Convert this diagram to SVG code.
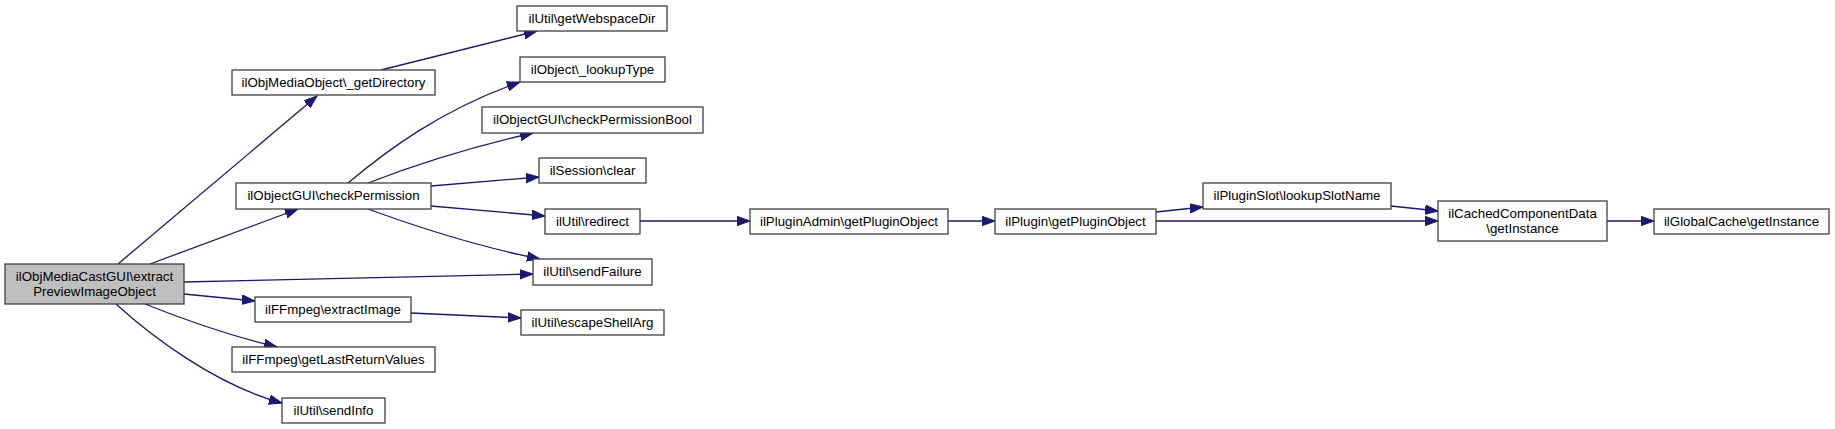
<svg xmlns="http://www.w3.org/2000/svg" width="1835" height="429" viewBox="0 0 1835 429">
<style>
.n rect{fill:#ffffff;stroke:#404040;stroke-width:1.3}
.n.main rect{fill:#bfbfbf}
.n text{font-family:"Liberation Sans",Arial,sans-serif;font-size:13.3px;fill:#000;text-anchor:middle}
.e path{fill:none;stroke:#191970;stroke-width:1.3;marker-end:url(#arr)}
</style>
<defs>
<marker id="arr" markerUnits="userSpaceOnUse" markerWidth="15" markerHeight="12" refX="13" refY="6" orient="auto">
<path d="M0,1.3 L13,6 L0,10.7 z" fill="#191970" stroke="#191970" stroke-width="1"/>
</marker>
</defs>
<rect width="1835" height="429" fill="#ffffff"/>
<g id="edges" class="e">
<path d="M118,264 L317,96"/>
<path d="M150,264 L298,209"/>
<path d="M184,282 L533,274"/>
<path d="M184,294 L255,301"/>
<path d="M145,304 C185,320 235,337 277,347"/>
<path d="M116,304 C150,335 215,385 282,403"/>
<path d="M381,70 L537,31"/>
<path d="M348,183 C385,152 440,110 520,82"/>
<path d="M368,183 C420,163 480,145 533,133"/>
<path d="M431,186 L539,177"/>
<path d="M431,206 L545,216"/>
<path d="M368,209 C420,228 480,247 540,259"/>
<path d="M411,313 L521,318"/>
<path d="M640,221 L750,221"/>
<path d="M948,221 L995,221"/>
<path d="M1156,212 L1203,207"/>
<path d="M1156,221 L1438,221"/>
<path d="M1391,206 L1438,211"/>
<path d="M1607,221 L1654,221"/>
</g>
<g id="n_main" class="n main"><rect x="5" y="264" width="179" height="40"/><text x="94.5" y="281">ilObjMediaCastGUI\extract</text><text x="94.5" y="296">PreviewImageObject</text></g>
<g id="n_getDirectory" class="n"><rect x="232" y="70" width="203" height="25"/><text x="333.5" y="87">ilObjMediaObject\_getDirectory</text></g>
<g id="n_checkPermission" class="n"><rect x="236" y="183" width="195" height="26"/><text x="333.5" y="200">ilObjectGUI\checkPermission</text></g>
<g id="n_extractImage" class="n"><rect x="255" y="297" width="156" height="25"/><text x="333" y="314">ilFFmpeg\extractImage</text></g>
<g id="n_getLastReturnValues" class="n"><rect x="232" y="347" width="203" height="25"/><text x="333.5" y="364">ilFFmpeg\getLastReturnValues</text></g>
<g id="n_sendInfo" class="n"><rect x="282" y="398" width="103" height="25"/><text x="333.5" y="415">ilUtil\sendInfo</text></g>
<g id="n_getWebspaceDir" class="n"><rect x="517" y="6" width="150" height="25"/><text x="592" y="23">ilUtil\getWebspaceDir</text></g>
<g id="n_lookupType" class="n"><rect x="520" y="57" width="145" height="25"/><text x="592.5" y="74">ilObject\_lookupType</text></g>
<g id="n_checkPermissionBool" class="n"><rect x="482" y="107" width="221" height="26"/><text x="592.5" y="124">ilObjectGUI\checkPermissionBool</text></g>
<g id="n_clear" class="n"><rect x="539" y="158" width="107" height="25"/><text x="592.5" y="175">ilSession\clear</text></g>
<g id="n_redirect" class="n"><rect x="545" y="209" width="95" height="25"/><text x="592.5" y="226">ilUtil\redirect</text></g>
<g id="n_sendFailure" class="n"><rect x="533" y="259" width="119" height="26"/><text x="592.5" y="276">ilUtil\sendFailure</text></g>
<g id="n_escapeShellArg" class="n"><rect x="521" y="310" width="143" height="25"/><text x="592.5" y="327">ilUtil\escapeShellArg</text></g>
<g id="n_pluginAdmin" class="n"><rect x="750" y="209" width="198" height="25"/><text x="849" y="226">ilPluginAdmin\getPluginObject</text></g>
<g id="n_plugin" class="n"><rect x="995" y="209" width="161" height="25"/><text x="1075.5" y="226">ilPlugin\getPluginObject</text></g>
<g id="n_lookupSlotName" class="n"><rect x="1203" y="183" width="188" height="26"/><text x="1297" y="200">ilPluginSlot\lookupSlotName</text></g>
<g id="n_cachedComponentData" class="n"><rect x="1438" y="201" width="169" height="40"/><text x="1522.5" y="218">ilCachedComponentData</text><text x="1522.5" y="233">\getInstance</text></g>
<g id="n_globalCache" class="n"><rect x="1654" y="209" width="175" height="25"/><text x="1741.5" y="226">ilGlobalCache\getInstance</text></g>
</svg>
